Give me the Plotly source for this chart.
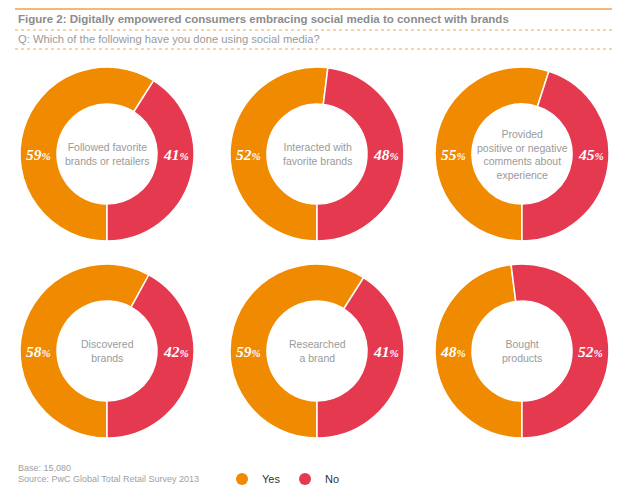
import plotly.graph_objects as go

# survey answers, one donut per question
questions = [
    "Followed favorite<br>brands or retailers",
    "Interacted with<br>favorite brands",
    "Provided<br>positive or negative<br>comments about<br>experience",
    "Discovered<br>brands",
    "Researched<br>a brand",
    "Bought<br>products",
]
yes_pct = [59, 52, 55, 58, 59, 48]
no_pct = [41, 48, 45, 42, 41, 52]
answers = ["Yes", "No"]
colors = ["#F08A00", "#E5394F"]

W, H = 620, 495
OFF = 8  # page body margin: positions below are screen pixels
col_x = [107, 317, 522]
row_y = [154, 351]
R = 87
HOLE = 0.575
SANS = "Liberation Sans, Arial"


def px(x, y):
    return (x - OFF) / W, 1 - (y - OFF) / H


def note(x, y, text, font, xanchor="center"):
    xx, yy = px(x, y)
    fig.add_annotation(x=xx, y=yy, xref="paper", yref="paper",
                       xanchor=xanchor, yanchor="middle", showarrow=False,
                       text=text, font=font)


fig = go.Figure()

for i, q in enumerate(questions):
    cx = col_x[i % 3]
    cy = row_y[i // 3]
    x0, y1 = px(cx - R, cy - R)
    x1, y0 = px(cx + R, cy + R)
    fig.add_trace(go.Pie(
        labels=answers,
        values=[yes_pct[i], no_pct[i]],
        hole=HOLE,
        sort=False,
        direction="clockwise",
        rotation=180,
        textinfo="none",
        hoverinfo="label+percent",
        marker=dict(colors=colors, line=dict(color="white", width=1.5)),
        domain=dict(x=[x0, x1], y=[y0, y1]),
        showlegend=False,
    ))
    # question in the hole
    note(cx, cy, q, dict(family=SANS, size=10.5, color="#9a9a9a"))
    # percent labels on the ring, level with the centre
    mid = R * (1 + HOLE) / 2
    for val, sign in ((yes_pct[i], -1), (no_pct[i], 1)):
        note(cx + sign * mid, cy, f"{val}<span style='font-size:11px'>%</span>",
             dict(family="Liberation Serif, Georgia", size=15.5, color="white",
                  weight="bold", style="italic"))

# legend entries
for name, c in zip(answers, colors):
    fig.add_trace(go.Scatter(x=[None], y=[None], mode="markers", name=name,
                             marker=dict(color=c, size=12, symbol="circle")))

# header rules
for yy, dash, w, c in ((9, "solid", 1.5, "#F0A040"), (30, "dot", 1, "#F2A94A"), (49, "dot", 1, "#F2A94A")):
    xa, ya = px(15, yy)
    fig.add_shape(type="line", xref="paper", yref="paper", x0=xa, x1=1,
                  y0=ya, y1=ya, line=dict(color=c, width=w, dash=dash))

note(16, 19, "<b>Figure 2: Digitally empowered consumers embracing social media to connect with brands</b>",
     dict(family=SANS, size=11.5, color="#8c8c8c"), xanchor="left")
note(16, 39, "Q: Which of the following have you done using social media?",
     dict(family=SANS, size=11.2, color="#9a9a9a"), xanchor="left")
note(16, 468, "Base: 15,080", dict(family=SANS, size=9, color="#a0a0a0"), xanchor="left")
note(16, 479, "Source: PwC Global Total Retail Survey 2013",
     dict(family=SANS, size=9, color="#a0a0a0"), xanchor="left")

lx, ly = px(222, 479)
fig.update_layout(
    width=W, height=H,
    margin=dict(l=0, r=0, t=0, b=0),
    paper_bgcolor="white", plot_bgcolor="white",
    xaxis=dict(visible=False), yaxis=dict(visible=False),
    legend=dict(orientation="h", x=lx, y=ly, xanchor="left", yanchor="middle",
                font=dict(family=SANS, size=11, color="#333333"),
                entrywidth=18, entrywidthmode="pixels", itemsizing="trace",
                bgcolor="rgba(0,0,0,0)"),
)

fig.write_html("out.html")
